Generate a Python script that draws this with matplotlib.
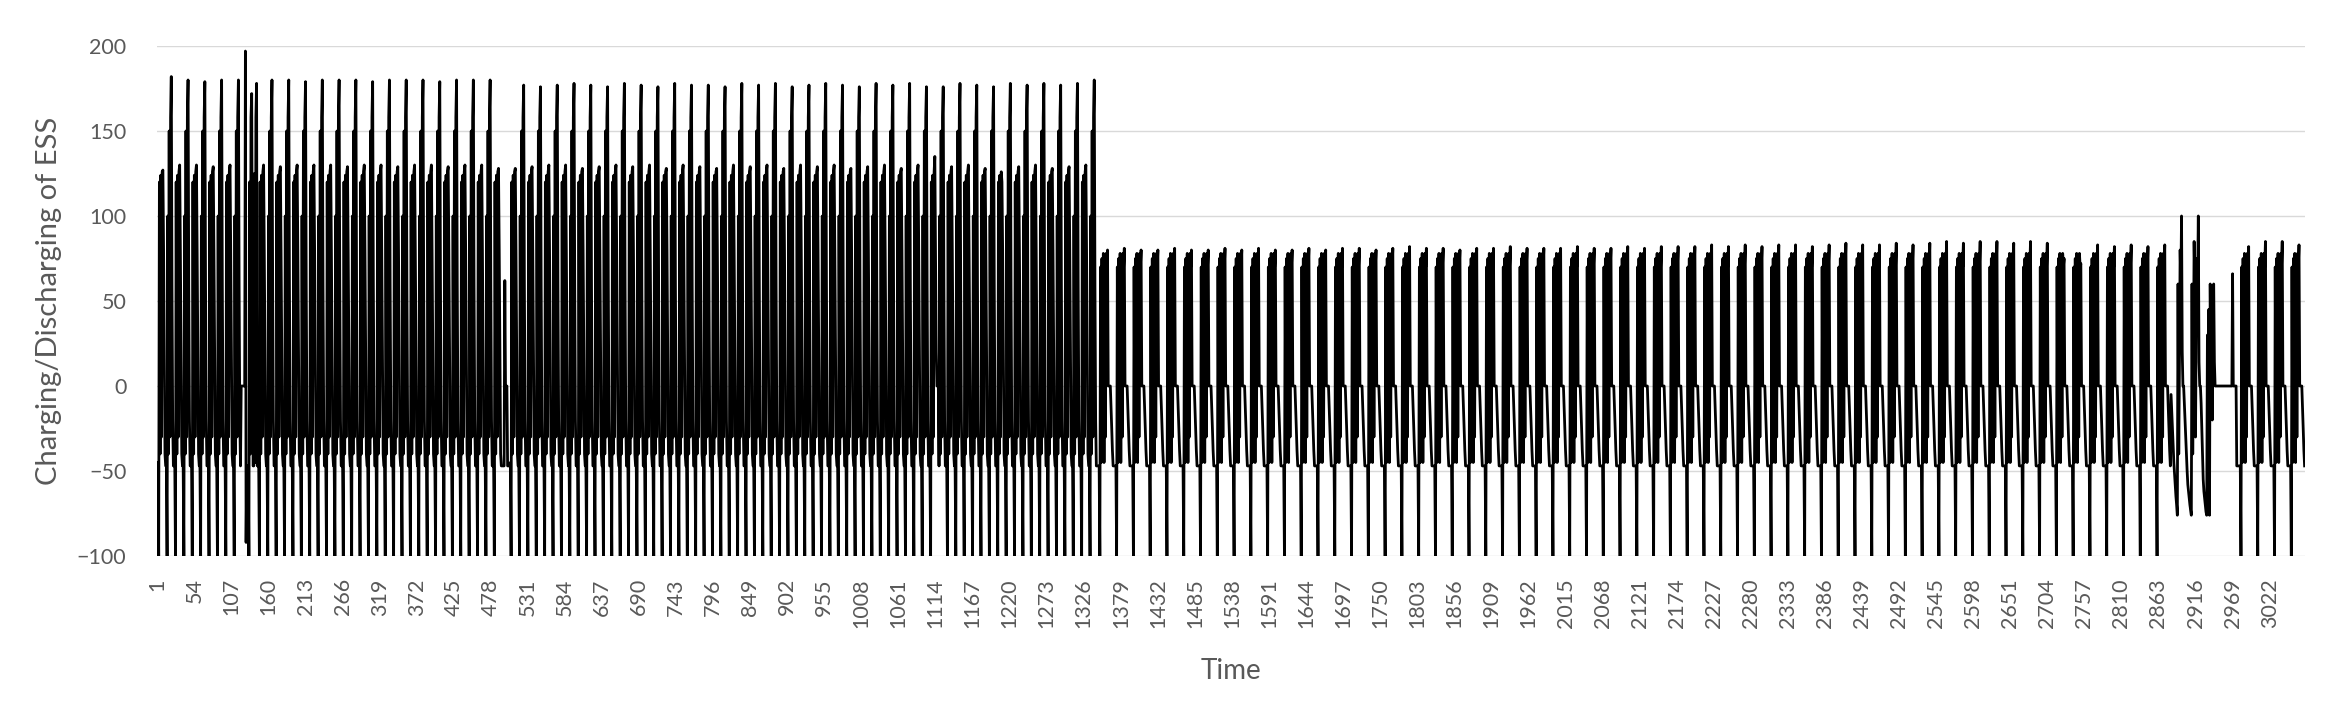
import numpy as np
import matplotlib.pyplot as plt

plt.rcParams['font.family'] = ['Lato', 'DejaVu Sans']

# hourly ESS schedule, 24 points per day, 128 days
HOURS = 24

# typical day, first period (two discharge peaks: A ~130, B ~180)
day_type1 = [-47, -45, -100, 120, -40, 124, -30, 126, 'A', 80, 20, -40,
             -47, -47, -100, 100, -40, 150, -30, 158, 'B', 60, -20, -47]
# typical day, second period (one discharge peak P ~80)
day_type2 = [-47, -47, -47, -47, -100, 70, -45, 75, -40, 78, -45, 76,
             -30, 78, 70, 'P', 0, 0, 0, 0, -12, -25, -38, -47]

peak_a = [127, 130, 130, 129, 130, 130, 130, 129, 130, 130,
          130, 129, 130, 130, 129, 130, 130, 129, 130, 130,
          128, 128, 129, 130, 130, 128, 129, 130, 129, 130,
          128, 130, 129, 128, 130, 129, 130, 128, 130, 129,
          130, 128, 129, 130, 128, 130, 135, 129, 130, 128,
          120, 129, 130, 128, 129, 130]
peak_b = [182, 180, 179, 180, 180, 180, 180, 180, 179, 180,
          180, 180, 179, 180, 180, 180, 179, 180, 180, 180,
          178, 177, 176, 177, 178, 177, 176, 178, 177, 176,
          178, 177, 177, 176, 178, 177, 178, 176, 177, 178,
          177, 176, 178, 177, 178, 176, 177, 178, 177, 176,
          178, 177, 178, 177, 178, 180]
peak_p = [80, 81, 80, 80, 81, 80, 80, 81, 80, 81, 80, 80, 81, 80,
          81, 81, 80, 81, 82, 81, 81, 80, 81, 81, 82, 81, 81, 81, 82, 81,
          81, 82, 81, 82,
          82, 82, 83, 82, 83, 82, 83, 83, 82, 83, 84, 83, 83, 84, 83,
          84, 85, 84, 85, 85, 84, 85, 84,
          75, 72, 83, 82, 83, 82, 83,
          100, 100, 60, 66,
          82, 85, 85, 83]

# irregular days (day number -> hourly values)
irregular_days = {
    6: [0, 0, 0, 0, 0, 0, 197, -92, -47, -47, -47, -100, 120, -40, 158, 172,
        60, -47, -47, 125, -45, 158, 178, -47],
    21: [-47, -45, -100, 120, -40, 124, -30, 126, 128, 80, 20, -40, -47, -47,
         -47, -47, -47, 62, 0, 0, 0, -47, -47, -47],
    47: [-47, -45, -100, 120, -40, 124, -30, 126, 135, 80, 20, 0, 0, 0, -47,
         100, -40, 150, -30, 158, 176, 60, -20, -47],
    121: [-5, -15, -25, -35, -45, -52, -60, -65, -70, -76, 60, -40, 14, 80, 60,
          100, 20, 0, 0, -10, -20, -30, -40, -50],
    122: [-58, -62, -66, -70, -73, -76, 60, -40, 14, 85, 60, -30, 40, 75, 60,
          100, 14, 0, 0, -10, -25, -40, -55, -62],
    123: [-66, -70, -74, -76, 30, -60, 45, -76, 60, 14, 55, -20, 58, 60, 14,
          0, 0, 0, 0, 0, 0, 0, 0, 0],
    124: [0, 0, 0, 0, 0, 0, 0, 0, 0, 0, 0, 0, 0, 0, 0, 0, 66, 0, 0, 0, 0, 0,
          -47, -47],
}

# assemble the series day by day
values = []
for d in range(len(peak_a)):
    if d + 1 in irregular_days:
        values += irregular_days[d + 1]
        continue
    for v in day_type1:
        values.append(peak_a[d] if v == 'A' else peak_b[d] if v == 'B' else v)
for d in range(len(peak_p)):
    day_no = len(peak_a) + d + 1
    if day_no in irregular_days:
        values += irregular_days[day_no]
        continue
    for v in day_type2:
        values.append(peak_p[d] if v == 'P' else v)

values = np.array(values, dtype=float)
t = np.arange(1, len(values) + 1)
tick_pos = list(range(1, len(values) + 1, 53))
tick_labels = [str(p) for p in tick_pos]

fig = plt.figure(figsize=(23.32, 7.04), dpi=100)
ax = fig.add_axes([0.0673, 0.2102, 0.9211, 0.7245])

ax.plot(t, values, color='black', linewidth=2.0, zorder=3)

ax.set_xlim(0.5, len(values) + 0.5)
ax.set_ylim(-100, 200)
ax.set_yticks(range(-100, 201, 50))
ax.set_xticks(tick_pos)
ax.set_xticklabels(tick_labels, rotation=90)

ax.grid(axis='y', color='#D9D9D9', linewidth=1.0, zorder=0)
for s in ax.spines.values():
    s.set_visible(False)
ax.tick_params(axis='both', length=0, colors='#595959', labelsize=15.5)
ax.tick_params(axis='x', pad=16)
ax.tick_params(axis='y', pad=22)

ax.set_xlabel('Time', fontsize=20, color='#595959')
ax.xaxis.set_label_coords(0.5, -0.2255)
ax.xaxis.label.set_va('center')
ax.set_ylabel('Charging/Discharging of ESS', fontsize=21, color='#595959')
ax.yaxis.set_label_coords(-0.0503, 0.5)
ax.yaxis.label.set_va('center')

fig.savefig('out.png', dpi=100, facecolor='white')
